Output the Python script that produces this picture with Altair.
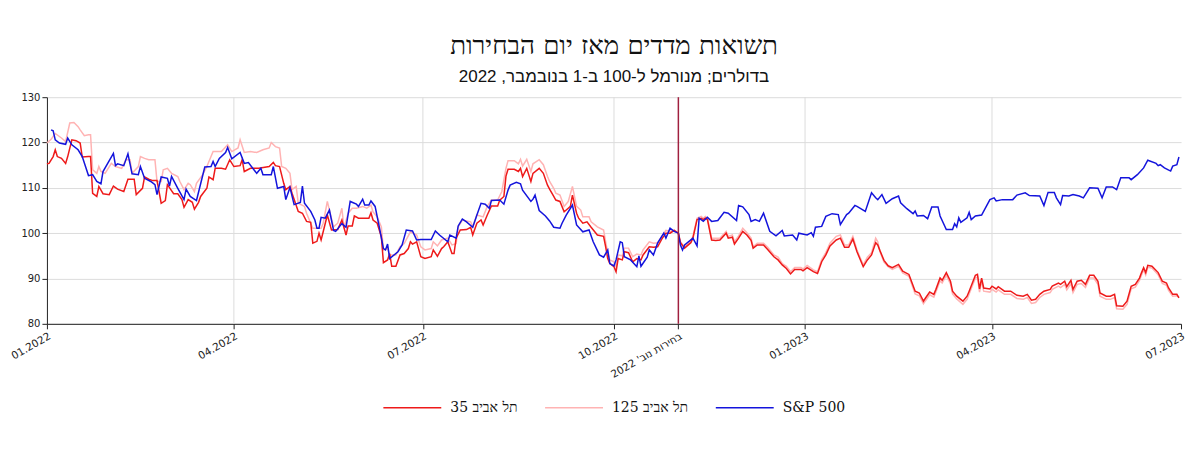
import altair as alt
import pandas as pd

series_names = ["תל אביב 35", "תל אביב 125", "S&P 500"]
series_colors = ["#ee1a1a", "#ffb3b3", "#1414dc"]

# (days since 2022-01-01, value)
ta35 = [(0,115.3),(1,115.4),(3,116.9),(4,118.4),(5,116.9),(7,116.5),(9,115.4),(10,116.9),(12,120.6),(14,120.4),(16,119.9),(17,116.8),(20,116.9),(21,116.9),(22,108.8),(24,108.1),(25,110.3),(27,108.7),(30,108.5),(32,110.4),(34,109.7),(37,109.2),(39,111.9),(42,111.9),(43,108.5),(46,109.9),(47,112.4),(49,111.9),(51,111.6),(53,111.6),(55,106.6),(57,107.2),(58,110.7),(61,108.7),(63,108.7),(65,107.4),(66,105.7),(68,107.4),(70,106.8),(71,105.3),(73,106.8),(74,108.1),(77,109.9),(78,112.4),(80,111.8),(81,114.3),(84,114.3),(86,114.1),(88,116.2),(90,114.7),(93,114.9),(94,116.2),(95,113.6),(98,114.3),(102,114.3),(107,114.7),(109,115.6),(110,114.9),(112,114.7),(114,111.0),(115,109.6),(117,110.3),(118,108.8),(121,104.8),(123,104.4),(125,102.6),(127,102.4),(128,97.8),(130,98.2),(131,100.0),(132,98.5),(133,100.3),(135,104.0),(137,100.7),(140,100.8),(142,102.9),(144,99.6),(145,101.6),(147,101.6),(148,103.8),(150,103.3),(153,103.3),(155,103.3),(156,104.5),(157,102.9),(159,102.2),(161,99.2),(162,93.5),(164,94.1),(165,95.5),(166,92.7),(168,92.7),(170,95.2),(172,95.5),(174,96.6),(175,98.1),(176,97.6),(178,98.1),(180,94.8),(182,94.4),(185,94.8),(186,96.3),(188,94.9),(190,96.6),(191,97.0),(193,98.1),(195,95.5),(196,95.5),(197,98.9),(199,100.7),(202,100.8),(204,101.3),(205,99.6),(207,102.2),(209,102.9),(210,101.8),(212,104.0),(214,106.0),(217,106.0),(218,107.3),(220,108.1),(221,112.6),(222,114.1),(225,114.1),(227,113.6),(228,114.3),(229,112.5),(231,114.3),(233,111.4),(234,113.2),(237,114.3),(239,113.2),(241,110.6),(242,109.7),(244,108.1),(245,107.3),(247,107.0),(249,104.7),(251,105.5),(252,105.9),(253,108.4),(255,104.4),(256,103.3),(258,102.2),(260,102.5),(262,101.3),(265,99.6),(268,99.3),(269,97.0),(270,94.4),(271,93.3),(273,92.6),(274,91.5),(275,94.4),(277,94.1),(278,95.9),(280,95.7),(282,93.7),(284,94.4),(286,94.1),(287,95.2),(290,97.0),(292,96.9),(294,97.0),(296,98.7),(298,100.0),(300,100.0),(302,100.6),(304,100.0),(305,97.9),(307,96.7),(310,97.9),(311,98.9),(313,103.0),(315,103.3),(316,103.0),(317,103.3),(318,103.0),(320,98.5),(322,98.4),(324,98.5),(327,100.0),(328,98.9),(330,99.1),(331,97.6),(333,98.9),(335,100.4),(337,99.6),(339,98.4),(340,96.7),(342,97.4),(345,97.4),(347,96.4),(350,94.8),(352,94.1),(354,93.0),(356,92.2),(358,91.0),(360,92.0),(363,92.0),(364,91.7),(366,92.4),(369,91.5),(371,91.1),(373,93.7),(375,95.2),(377,97.2),(380,98.5),(382,98.9),(384,96.9),(386,96.9),(388,98.7),(390,95.9),(391,94.8),(393,92.6),(395,94.1),(397,95.2),(399,97.9),(400,97.4),(401,96.2),(403,94.0),(405,92.8),(407,92.4),(410,93.1),(412,91.6),(415,90.9),(418,87.2),(420,86.8),(422,85.0),(423,85.7),(425,87.0),(427,86.5),(428,87.6),(430,90.1),(431,89.6),(433,91.3),(435,89.4),(436,87.2),(438,86.1),(441,85.0),(443,86.1),(444,87.2),(447,90.7),(448,90.9),(449,87.7),(450,90.1),(451,87.9),(454,87.7),(455,88.3),(457,87.7),(458,88.2),(461,87.2),(464,87.2),(467,86.3),(470,86.1),(472,86.5),(474,85.2),(476,85.4),(478,86.5),(480,87.2),(483,87.6),(484,88.3),(487,89.0),(488,88.7),(490,89.4),(491,88.2),(493,89.6),(494,87.6),(496,89.4),(498,89.6),(500,88.7),(502,90.7),(504,90.7),(506,89.4),(507,86.8),(510,86.1),(512,86.1),(514,86.5),(515,84.0),(518,83.9),(520,85.0),(522,88.3),(524,88.7),(526,90.1),(527,91.3),(528,92.4),(529,91.3),(530,92.9),(532,92.7),(535,91.3),(537,89.4),(539,89.0),(540,87.9),(542,86.5),(544,86.5),(545,85.7)]

ta125 = [(0,119.9),(2,120.7),(4,122.0),(7,121.0),(9,120.2),(11,124.3),(13,124.4),(15,123.5),(16,122.8),(18,121.5),(20,121.7),(21,121.7),(22,114.0),(24,113.2),(25,114.7),(26,113.6),(28,113.2),(31,115.4),(33,114.7),(36,114.3),(38,116.2),(40,116.2),(41,113.2),(44,114.7),(45,116.9),(47,116.5),(49,116.2),(52,116.2),(53,111.4),(55,111.4),(56,114.0),(58,114.3),(60,113.2),(63,112.5),(64,111.4),(66,109.6),(68,111.0),(69,110.7),(71,109.2),(72,111.0),(75,112.9),(77,114.7),(79,116.9),(80,118.0),(84,118.0),(87,119.5),(89,118.0),(92,118.8),(93,120.6),(95,117.8),(98,118.0),(101,117.8),(104,118.4),(107,118.8),(108,120.0),(110,119.1),(112,118.8),(113,114.7),(115,114.3),(117,113.2),(118,109.6),(120,110.3),(121,106.6),(124,105.9),(125,104.4),(128,101.1),(130,101.1),(132,101.1),(133,102.2),(135,107.0),(136,105.1),(138,101.4),(140,102.2),(142,105.5),(143,101.1),(145,104.4),(147,105.5),(149,105.5),(152,105.9),(154,105.5),(156,106.2),(157,104.7),(159,103.6),(161,101.4),(162,96.3),(164,96.6),(165,95.2),(168,95.2),(170,97.0),(172,97.7),(175,100.3),(178,99.6),(180,97.0),(182,96.3),(185,96.6),(186,98.1),(188,97.2),(190,98.5),(193,98.9),(195,97.4),(197,97.7),(198,101.4),(200,102.9),(204,102.5),(205,101.4),(207,104.0),(210,103.6),(212,105.9),(214,107.3),(217,107.3),(219,109.2),(221,114.3),(222,116.0),(225,116.0),(227,115.3),(228,116.3),(229,114.8),(231,116.3),(233,113.6),(234,115.3),(237,116.2),(239,115.1),(241,112.5),(242,111.4),(244,109.9),(245,108.8),(247,108.4),(249,105.9),(251,107.0),(253,110.3),(255,105.9),(257,105.1),(258,103.6),(261,103.6),(262,102.5),(265,101.4),(268,100.7),(269,98.1),(270,95.6),(271,94.1),(273,93.7),(274,92.6),(275,95.2),(277,95.0),(278,96.7),(280,96.7),(282,94.8),(284,95.4),(286,95.2),(287,96.3),(290,98.1),(292,97.8),(294,97.9),(296,99.3),(298,100.6),(300,100.4),(302,100.7),(304,100.0),(305,98.1),(307,96.9),(310,98.4),(311,99.3),(313,103.3),(315,103.7),(316,103.3),(317,103.7),(318,103.3),(320,98.9),(322,98.9),(324,98.9),(327,100.4),(328,99.3),(330,99.6),(331,98.1),(333,99.4),(335,101.1),(337,100.1),(339,98.9),(340,97.0),(342,97.8),(345,97.8),(347,96.9),(350,95.2),(352,94.7),(354,93.3),(356,92.7),(358,91.5),(360,92.4),(363,92.4),(364,92.1),(366,92.9),(369,91.9),(371,91.5),(373,94.2),(375,95.7),(377,97.8),(380,99.3),(382,99.6),(384,97.4),(386,97.4),(388,99.3),(390,96.3),(391,95.2),(393,93.0),(395,94.7),(397,95.7),(399,98.9),(400,98.1),(401,96.0),(403,93.6),(405,92.6),(407,92.0),(410,92.7),(412,91.2),(415,90.5),(418,86.6),(420,86.2),(422,84.4),(423,85.1),(425,86.4),(427,85.9),(428,87.0),(430,89.5),(431,89.0),(433,90.7),(435,88.8),(436,86.6),(438,85.5),(441,84.3),(443,85.4),(444,86.6),(447,90.1),(448,90.3),(449,87.0),(450,89.5),(451,87.2),(454,87.0),(455,87.6),(457,87.0),(458,87.5),(461,86.5),(464,86.5),(467,85.6),(470,85.4),(472,85.8),(474,84.5),(476,84.7),(478,85.8),(480,86.5),(483,86.9),(484,87.6),(487,88.3),(488,88.0),(490,88.7),(491,87.5),(493,88.9),(494,86.9),(496,88.7),(498,88.9),(500,88.0),(502,90.1),(504,90.1),(506,88.7),(507,86.1),(510,85.4),(512,85.4),(514,85.8),(515,83.3),(518,83.2),(520,84.3),(522,87.7),(524,88.1),(526,89.6),(527,90.8),(528,91.9),(529,90.8),(530,92.5),(532,92.3),(535,90.8),(537,88.9),(539,88.5),(540,87.4),(542,86.1),(544,86.2),(545,85.9)]

sp500 = [(2,122.8),(3,122.6),(4,120.6),(6,119.9),(9,119.6),(10,121.0),(12,119.5),(15,118.4),(17,116.9),(20,112.7),(22,112.9),(24,111.4),(26,110.9),(27,113.6),(32,117.6),(33,114.9),(34,115.3),(37,114.9),(39,117.5),(41,113.1),(44,112.9),(45,114.7),(47,112.1),(50,111.4),(52,110.7),(53,108.5),(55,112.4),(58,112.1),(59,110.4),(60,112.5),(63,109.9),(66,107.4),(67,109.7),(69,108.1),(72,107.2),(76,114.6),(79,114.7),(80,115.8),(81,114.7),(83,116.5),(86,117.8),(87,118.9),(89,116.4),(93,117.8),(95,115.4),(97,115.6),(101,113.2),(103,114.3),(104,112.9),(108,112.9),(109,114.7),(111,109.9),(114,110.3),(115,107.4),(117,110.1),(119,106.3),(122,106.8),(123,110.4),(124,106.6),(127,104.8),(129,102.9),(130,101.1),(131,101.1),(132,103.5),(134,103.3),(136,105.1),(138,100.6),(139,100.4),(142,102.1),(144,101.3),(146,107.0),(149,106.4),(150,105.9),(152,107.5),(153,106.2),(155,106.2),(156,107.1),(158,105.9),(160,101.4),(162,96.6),(163,96.3),(164,97.6),(165,94.4),(169,95.9),(171,97.4),(173,100.7),(176,100.5),(178,98.5),(180,98.6),(185,98.6),(187,100.5),(189,99.6),(193,98.1),(194,99.6),(197,98.9),(198,101.6),(200,103.1),(202,102.5),(205,101.3),(207,104.0),(209,106.6),(211,106.4),(213,105.5),(214,107.2),(218,107.3),(220,106.4),(222,109.5),(223,110.6),(226,111.2),(228,110.9),(229,109.5),(233,107.0),(234,107.5),(235,108.4),(237,105.0),(240,103.8),(242,102.7),(244,101.3),(247,101.1),(248,102.2),(250,104.0),(253,106.2),(255,101.8),(258,100.3),(261,100.7),(263,98.1),(266,95.2),(268,94.7),(270,96.3),(271,93.3),(273,92.8),(274,94.1),(276,98.1),(277,97.9),(278,94.8),(281,94.1),(284,92.6),(285,95.0),(286,92.7),(289,94.7),(290,96.3),(292,95.2),(294,97.8),(297,100.0),(298,98.9),(300,101.1),(302,100.4),(304,100.0),(305,97.4),(306,96.3),(307,97.4),(311,98.9),(313,97.2),(314,103.3),(316,102.6),(318,103.5),(320,102.6),(323,102.8),(326,104.6),(328,104.4),(332,102.8),(333,106.1),(335,105.8),(338,104.1),(339,102.6),(341,103.0),(343,102.6),(345,104.4),(348,100.4),(351,99.4),(354,100.6),(355,99.4),(359,99.6),(361,98.5),(362,100.0),(366,99.6),(368,100.1),(369,99.3),(370,101.3),(373,101.5),(375,103.7),(378,104.3),(381,104.1),(382,101.9),(385,104.1),(386,104.4),(389,106.1),(390,105.9),(394,104.8),(397,108.9),(399,107.8),(400,107.4),(402,108.5),(404,106.6),(407,107.6),(410,108.2),(411,106.7),(414,105.4),(417,104.3),(418,104.9),(419,103.8),(422,103.9),(424,103.2),(426,105.8),(429,105.8),(430,103.8),(433,100.8),(436,100.8),(437,102.1),(438,101.4),(439,103.4),(440,102.4),(443,103.4),(444,104.6),(445,103.0),(447,103.8),(450,104.0),(454,107.4),(456,107.8),(457,107.1),(460,107.4),(465,107.4),(467,108.4),(471,108.9),(473,108.3),(478,108.2),(480,106.1),(482,109.0),(485,109.0),(486,107.8),(488,106.3),(489,108.3),(492,108.2),(494,108.5),(497,108.2),(499,107.8),(502,110.0),(506,109.9),(508,107.8),(510,110.2),(513,110.2),(515,109.6),(517,112.2),(521,112.2),(522,111.8),(525,112.9),(528,114.4),(530,116.1),(534,115.4),(535,114.9),(536,115.1),(538,114.4),(541,113.7),(542,114.8),(544,115.1),(545,116.8)]

quarter_ticks = [(2022, 1), (2022, 4), (2022, 7), (2022, 10), (2022, 11), (2023, 1), (2023, 4), (2023, 7)]
grid_dates = ["2022-04-01", "2022-07-01", "2022-10-01", "2023-01-01", "2023-04-01"]
election_date = ["2022-11-01"]
y_ticks = [80, 90, 100, 110, 120, 130]

title_text = "תשואות מדדים מאז יום הבחירות"
subtitle_text = "בדולרים; מנורמל ל-100 ב-1 בנובמבר, 2022"
election_label = "בחירות נוב' 2022"


def to_frame(pairs, name):
    days = [p[0] for p in pairs]
    vals = [p[1] for p in pairs]
    dates = (pd.Timestamp("2022-01-01") + pd.to_timedelta(days, unit="D")).strftime("%Y-%m-%d")
    return pd.DataFrame({"date": list(dates), "value": vals, "series": name})


frames = {
    series_names[0]: to_frame(ta35, series_names[0]),
    series_names[1]: to_frame(ta125, series_names[1]),
    series_names[2]: to_frame(sp500, series_names[2]),
}

x_scale = alt.Scale(
    type="utc",
    domain=[alt.DateTime(year=2022, month=1, date=1, utc=True),
            alt.DateTime(year=2023, month=7, date=1, utc=True)],
    nice=False,
)
label_expr = ("utcFormat(datum.value, '%Y-%m') == '2022-11' ? \"" + election_label +
              "\" : utcFormat(datum.value, '%m.%Y')")
x_axis = alt.Axis(
    values=[alt.DateTime(year=y, month=m, date=1, utc=True) for y, m in quarter_ticks],
    labelExpr=label_expr,
    labelAngle=-30,
    labelAlign="right",
    labelBaseline="top",
    labelFont="DejaVu Sans",
    labelFontSize=10.5,
    labelColor="#222222",
    labelPadding=2,
    domainColor="#222222",
    tickColor="#222222",
    tickSize=5,
    grid=False,
    title=None,
    labelOverlap=False,
)
x_enc = alt.X("date:T", scale=x_scale, axis=x_axis)

y_axis = alt.Axis(
    values=y_ticks,
    grid=True,
    gridColor="#dcdcdc",
    labelFont="DejaVu Sans",
    labelFontSize=10,
    labelColor="#222222",
    domainColor="#222222",
    tickColor="#222222",
    tickSize=5,
    title=None,
)
y_enc = alt.Y("value:Q", scale=alt.Scale(domain=[80, 130], nice=False, zero=False), axis=y_axis)

color_enc = alt.Color(
    "series:N",
    scale=alt.Scale(domain=series_names, range=series_colors),
    legend=alt.Legend(
        orient="none",
        legendX=336,
        legendY=281,
        direction="horizontal",
        columns=3,
        title=None,
        symbolType="stroke",
        symbolSize=3364,
        symbolStrokeWidth=1.5,
        labelFont="DejaVu Serif",
        labelFontSize=14,
        labelColor="#111111",
        labelOffset=8,
        columnPadding=24,
    ),
)

grid_layer = alt.Chart(pd.DataFrame({"date": grid_dates})).mark_rule(
    color="#dcdcdc", strokeWidth=1
).encode(x=x_enc)

line_layers = []
for name in [series_names[1], series_names[0], series_names[2]]:
    line_layers.append(
        alt.Chart(frames[name]).mark_line(strokeWidth=1.5).encode(
            x=x_enc, y=y_enc, color=color_enc
        )
    )

election_layer = alt.Chart(pd.DataFrame({"date": election_date})).mark_rule(
    color="#a0203f", strokeWidth=1.5
).encode(x=x_enc)

chart = alt.layer(grid_layer, *line_layers, election_layer).properties(
    width=1136,
    height=227,
    padding={"left": 1, "top": 25, "right": 5, "bottom": 5},
    title=alt.TitleParams(
        text=title_text,
        subtitle=subtitle_text,
        anchor="middle",
        font="DejaVu Serif",
        subtitleFont="Liberation Sans",
        fontSize=26,
        subtitleFontSize=17,
        fontWeight="normal",
        color="#111111",
        subtitleColor="#111111",
        offset=7,
        subtitlePadding=10,
    ),
).configure_view(stroke=None)

chart.save("out.html", embed_options={"renderer": "svg", "actions": False})
